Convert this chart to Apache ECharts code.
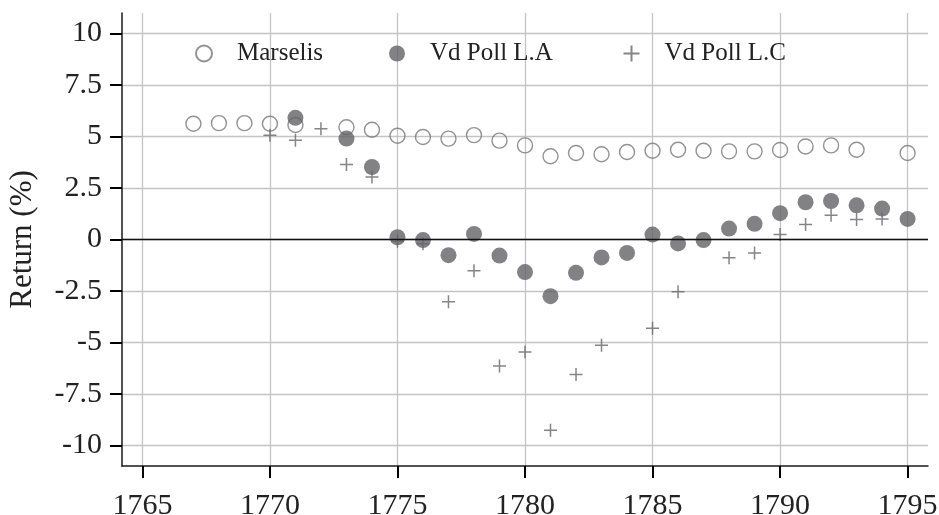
<!DOCTYPE html>
<html><head><meta charset="utf-8">
<script src="https://cdn.jsdelivr.net/npm/echarts@6/dist/echarts.min.js"></script>
<style>html,body{margin:0;padding:0;background:#fff}#c{width:939px;height:515px}</style>
</head><body><div id="c"></div>
<script>
var years = [1767,1768,1769,1770,1771,1772,1773,1774,1775,1776,1777,1778,1779,1780,1781,1782,1783,1784,1785,1786,1787,1788,1789,1790,1791,1792,1793,1794,1795];
var marselis = [5.62,5.65,5.65,5.62,5.56,null,5.45,5.33,5.04,4.98,4.9,5.07,4.8,4.57,4.04,4.2,4.14,4.25,4.31,4.36,4.31,4.28,4.28,4.35,4.52,4.57,4.36,null,4.2];
var pollA = [null,null,null,null,5.91,null,4.9,3.52,0.11,-0.03,-0.76,0.27,-0.78,-1.58,-2.75,-1.62,-0.87,-0.65,0.24,-0.19,-0.03,0.53,0.76,1.28,1.81,1.87,1.66,1.5,1.0];
var pollC = [null,null,null,5.06,4.82,5.38,3.64,3.04,-0.08,-0.21,-3.02,-1.52,-6.14,-5.46,-9.26,-6.56,-5.14,null,-4.31,-2.54,null,-0.89,-0.65,0.24,0.73,1.18,0.97,1.0,null];
var xTicks = [1765,1770,1775,1780,1785,1790,1795];
var yTicks = [-10,-7.5,-5,-2.5,0,2.5,5,7.5,10];

function pairs(vals){ var out=[]; for(var i=0;i<years.length;i++){ if(vals[i]!==null) out.push([years[i],vals[i]]); } return out; }

var FONT = 'Liberation Serif';
var chart = echarts.init(document.getElementById('c'), null, {renderer:'canvas'});
var legendBase = {top:41, padding:0, itemWidth:16, itemHeight:16, textStyle:{fontFamily:FONT, fontSize:25, color:'#222', padding:[0,0,0,20]}};
chart.setOption({
  animation:false,
  grid:{left:122, right:11, top:13, bottom:49, containLabel:false, outerBoundsMode:'none'},
  legend:[
    Object.assign({left:195, data:['Marselis']}, legendBase),
    Object.assign({left:389, data:['Vd Poll L.A']}, legendBase),
    Object.assign({left:621, data:['Vd Poll L.C']}, legendBase)
  ],
  xAxis:{type:'value', min:1764.2, max:1795.8,
    axisLine:{show:true, onZero:false, lineStyle:{color:'#1a1a1a', width:1.5}},
    axisTick:{show:true, length:12, customValues:xTicks, lineStyle:{color:'#000', width:2}},
    axisLabel:{customValues:xTicks, margin:25, fontFamily:FONT, fontSize:30, color:'#222', formatter:function(v){return String(v);}},
    splitLine:{show:true, lineStyle:{color:'#c4c4c4', width:1.3}}
  },
  yAxis:{type:'value', min:-11, max:11,
    name:'Return (%)', nameLocation:'middle', nameGap:84, nameTextStyle:{fontFamily:FONT, fontSize:31, color:'#222'},
    axisLine:{show:true, onZero:false, lineStyle:{color:'#1a1a1a', width:1.5}},
    axisTick:{show:true, length:12, customValues:yTicks, lineStyle:{color:'#000', width:2}},
    axisLabel:{customValues:yTicks, margin:20, fontFamily:FONT, fontSize:30, color:'#222', formatter:function(v){return String(v);}},
    splitLine:{show:true, lineStyle:{color:'#c4c4c4', width:1.3}}
  },
  series:[
    {name:'Marselis', type:'scatter', data:pairs(marselis), symbol:'circle', symbolSize:15,
     itemStyle:{color:'rgba(255,255,255,0)', borderColor:'#777', borderWidth:1.4},
     markLine:{silent:true, symbol:'none', label:{show:false}, lineStyle:{color:'#111', width:1.4, type:'solid'}, data:[{yAxis:0}]}},
    {name:'Vd Poll L.A', type:'scatter', data:pairs(pollA), symbol:'circle', symbolSize:16,
     itemStyle:{color:'#636366'}},
    {name:'Vd Poll L.C', type:'scatter', data:pairs(pollC), symbol:'path://M5,0L5,10M0,5L10,5', symbolSize:13,
     itemStyle:{color:'none', borderColor:'#666', borderWidth:1.5}}
  ]
});
</script></body></html>
